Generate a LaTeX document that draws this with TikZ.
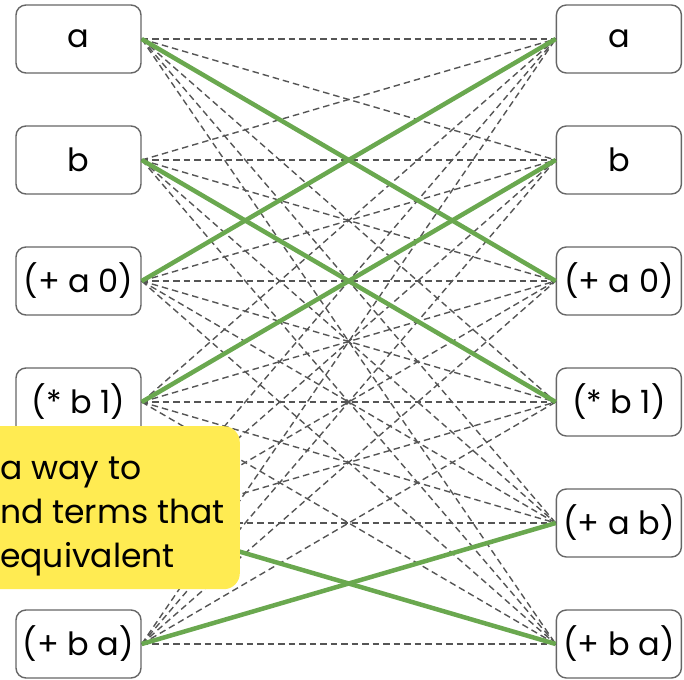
\documentclass[tikz,border=0pt]{standalone}
\usepackage{fontspec}
\setmainfont{Poppins}
\usetikzlibrary{positioning}
\definecolor{edgegray}{HTML}{555555}
\definecolor{boxgray}{HTML}{666666}
\definecolor{matchgreen}{HTML}{6AA84F}
\definecolor{noteyellow}{HTML}{FFEB52}

\begin{document}
\begin{tikzpicture}[
  x=1pt, y=-1pt,
  node distance=51.6pt,
  term/.style={draw=boxgray, line width=1.4pt, rounded corners=10pt, fill=white,
    minimum width=125pt, minimum height=68pt, inner sep=1pt,
    font=\fontsize{32}{36}\selectfont},
  cand/.style={edgegray, line width=1.4pt, dash pattern=on 6.5pt off 4pt},
  match/.style={matchgreen, line width=4.5pt},
  note/.style={fill=noteyellow, rounded corners=16pt},
]
  \clip (0,0) rectangle (684,679);

  % Left column
  \node[term] (l1) at (78.5,39) {a};
  \node[term, below=of l1] (l2) {b};
  \node[term, below=of l2] (l3) {(+ a 0)};
  \node[term, below=of l3] (l4) {(* b 1)};
  \node[term, below=of l4] (l5) {(+ a b)};
  \node[term, below=of l5] (l6) {(+ b a)};

  % Right column
  \node[term, right=414pt of l1] (r1) {a};
  \node[term, below=of r1] (r2) {b};
  \node[term, below=of r2] (r3) {(+ a 0)};
  \node[term, below=of r3] (r4) {(* b 1)};
  \node[term, below=of r4] (r5) {(+ a b)};
  \node[term, below=of r5] (r6) {(+ b a)};

  % Every pair
  \foreach \i in {1,...,6}
    \foreach \j in {1,...,6}
      \draw[cand] (l\i.east) -- (r\j.west);

  % Equivalent pairs
  \draw[match] (l1.east) -- (r3.west);
  \draw[match] (l2.east) -- (r4.west);
  \draw[match] (l3.east) -- (r1.west);
  \draw[match] (l4.east) -- (r2.west);
  \draw[match] (l5.east) -- (r6.west);
  \draw[match] (l6.east) -- (r5.west);

  % Note
  \node[note, anchor=north east, minimum width=280pt, minimum height=163pt] (note) at (240,426) {};
  \node[anchor=west, inner sep=0pt, align=left, font=\fontsize{33}{44}\selectfont]
    (notetext) at (0,516) {a way to\\nd terms that\\equivalent};
\end{tikzpicture}
\end{document}
